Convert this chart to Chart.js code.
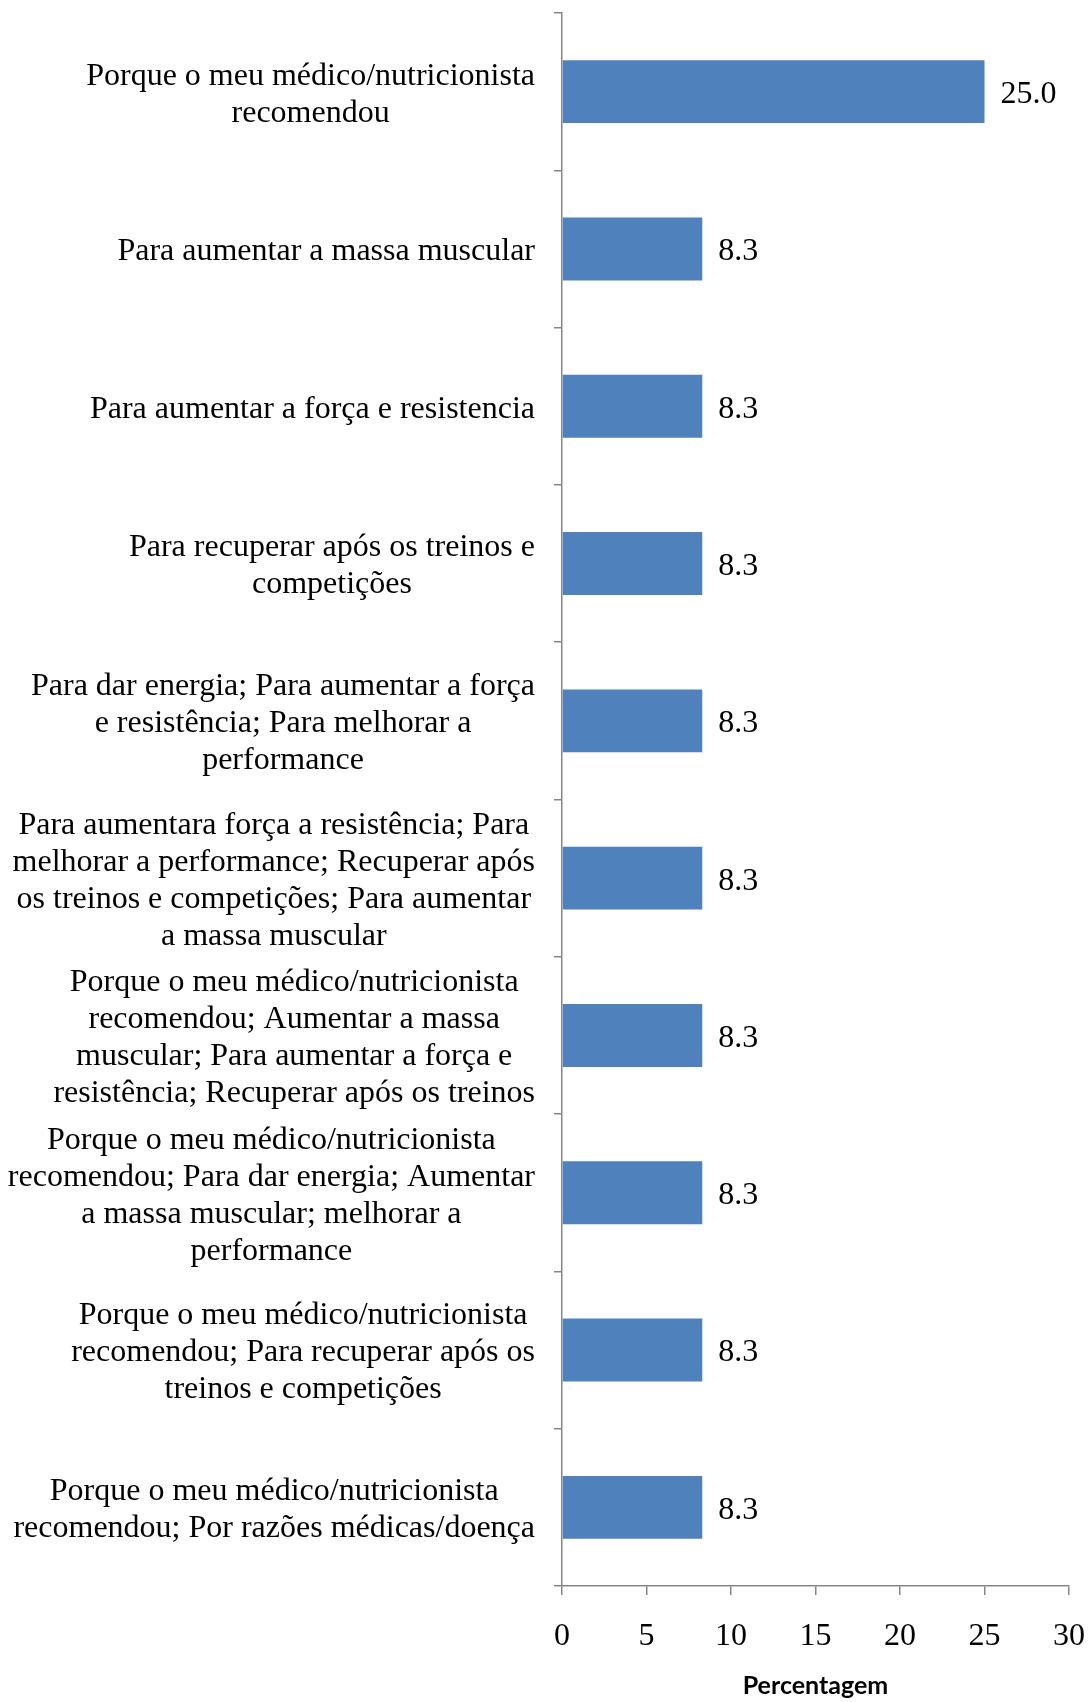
<!DOCTYPE html>
<html>
<head>
<meta charset="utf-8">
<script src="https://cdn.jsdelivr.net/npm/chart.js@4/dist/chart.umd.min.js"></script>
<style>
  body { margin: 0; background: #fff; }
  #wrap { width: 1091px; height: 1702px; position: relative; }
</style>
</head>
<body>
<div id="wrap"><canvas id="motivos-chart"></canvas></div>
<script>
// categories, one array of lines per bar (top to bottom)
var categorias = [
  ["Porque o meu médico/nutricionista", "recomendou"],
  ["Para aumentar a massa muscular"],
  ["Para aumentar a força e resistencia"],
  ["Para recuperar após os treinos e", "competições"],
  ["Para dar energia; Para aumentar a força", "e resistência; Para melhorar a", "performance"],
  ["Para aumentara força a resistência; Para", "melhorar a performance; Recuperar após", "os treinos e competições; Para aumentar", "a massa muscular"],
  ["Porque o meu médico/nutricionista", "recomendou; Aumentar a massa", "muscular; Para aumentar a força e", "resistência; Recuperar após os treinos"],
  ["Porque o meu médico/nutricionista", "recomendou; Para dar energia; Aumentar", "a massa muscular; melhorar a", "performance"],
  ["Porque o meu médico/nutricionista", "recomendou; Para recuperar após os", "treinos e competições"],
  ["Porque o meu médico/nutricionista", "recomendou; Por razões médicas/doença"]
];
var percentagens = [25.0, 8.3, 8.3, 8.3, 8.3, 8.3, 8.3, 8.3, 8.3, 8.3];
var eixoX = { min: 0, max: 30, step: 5 };
var tituloX = "Percentagem";

var serif = "'Liberation Serif', 'Times New Roman', serif";
var cinza = "#868686";

// category labels: lines centred in a block, block right-aligned to the axis
var rotulosCategoria = {
  id: 'rotulosCategoria',
  afterDraw: function(chart) {
    var ctx = chart.ctx;
    var y = chart.scales.y;
    var right = y.right - 27;
    var lh = 37;
    ctx.save();
    ctx.font = "32px " + serif;
    ctx.fillStyle = "#000";
    ctx.textAlign = "center";
    ctx.textBaseline = "middle";
    chart.data.labels.forEach(function(lines, i) {
      var maxW = 0;
      lines.forEach(function(l) { maxW = Math.max(maxW, ctx.measureText(l).width); });
      var cx = right - maxW / 2;
      var yc = y.getPixelForValue(i) + 3;
      var y0 = yc - (lines.length - 1) * lh / 2;
      lines.forEach(function(l, k) { ctx.fillText(l, cx, y0 + k * lh); });
    });
    ctx.restore();
  }
};

// value labels right of each bar
var rotulosValor = {
  id: 'rotulosValor',
  afterDatasetsDraw: function(chart) {
    var ctx = chart.ctx;
    var meta = chart.getDatasetMeta(0);
    ctx.save();
    ctx.font = "32px " + serif;
    ctx.fillStyle = "#000";
    ctx.textAlign = "left";
    ctx.textBaseline = "middle";
    meta.data.forEach(function(bar, i) {
      ctx.fillText(chart.data.datasets[0].data[i].toFixed(1), bar.x + 16, bar.y + 3);
    });
    ctx.restore();
  }
};

var ctx = document.getElementById("motivos-chart").getContext("2d");
var myNewChart = new Chart(ctx, {
  type: 'bar',
  data: {
    labels: categorias,
    datasets: [{
      data: percentagens,
      backgroundColor: "#4F81BD",
      borderWidth: 0,
      barPercentage: 0.4,
      categoryPercentage: 1.0
    }]
  },
  options: {
    indexAxis: 'y',
    responsive: true,
    maintainAspectRatio: false,
    animation: false,
    layout: { padding: { top: 13, right: 22, bottom: 0, left: 0 } },
    plugins: { legend: { display: false }, tooltip: { enabled: false } },
    scales: {
      x: {
        min: eixoX.min,
        max: eixoX.max,
        afterFit: function(scale) {
          scale.height = 116;
          scale.paddingRight = 16;
        },
        ticks: {
          stepSize: eixoX.step,
          padding: 22,
          color: "#000",
          font: { family: serif, size: 32 }
        },
        grid: { drawOnChartArea: false, drawTicks: true, tickLength: 9, color: cinza, lineWidth: 1.5 },
        border: { display: true, color: cinza, width: 1.5 },
        title: {
          display: true,
          text: tituloX,
          color: "#000",
          padding: { top: 0, bottom: 1 },
          font: { family: "Lato, 'Open Sans', sans-serif", size: 25, weight: 'bold', lineHeight: 1.2 }
        }
      },
      y: {
        afterFit: function(scale) { scale.width = 562; },
        ticks: { display: false },
        grid: { drawOnChartArea: false, drawTicks: true, tickLength: 8, offset: true, color: cinza, lineWidth: 1.5 },
        border: { display: true, color: cinza, width: 1.5 }
      }
    }
  },
  plugins: [rotulosCategoria, rotulosValor]
});
</script>
</body>
</html>
